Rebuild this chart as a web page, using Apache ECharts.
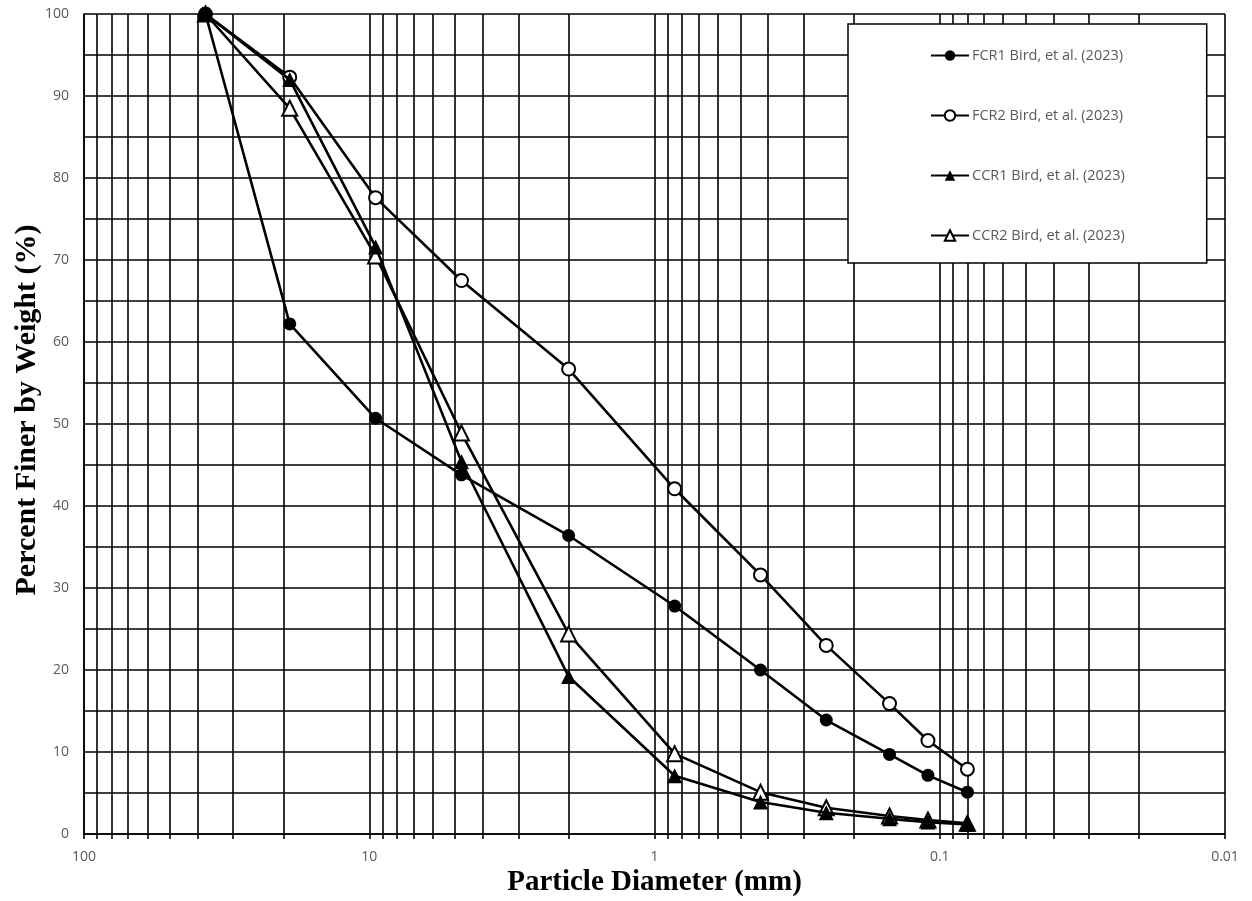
<!DOCTYPE html>
<html>
<head>
<meta charset="utf-8">
<title>Particle size distribution</title>
<script src="https://cdn.jsdelivr.net/npm/echarts@6/dist/echarts.min.js"></script>
<style>
  html, body { margin: 0; padding: 0; background: #fff; }
  #chart { width: 1252px; height: 901px; }
</style>
</head>
<body>
<div id="chart"></div>
<script>
// Sieve sizes (mm) and percent passing for each sample
const diameters = [37.5, 19, 9.5, 4.75, 2.0, 0.85, 0.425, 0.25, 0.15, 0.11, 0.08];
const fcr1 = [100, 62.2, 50.7, 43.8, 36.4, 27.8, 20.0, 13.9, 9.7, 7.15, 5.1];
const fcr2 = [100, 92.3, 77.6, 67.5, 56.7, 42.1, 31.6, 23.0, 15.9, 11.4, 7.9];
const ccr1 = [100, 92.0, 71.6, 45.4, 19.2, 7.1, 3.9, 2.6, 1.85, 1.45, 1.15];
const ccr2 = [100, 88.5, 70.5, 48.9, 24.4, 9.8, 5.1, 3.2, 2.2, 1.7, 1.3];

const seriesNames = [
  'FCR1 Bird, et al. (2023)',
  'FCR2 Bird, et al. (2023)',
  'CCR1 Bird, et al. (2023)',
  'CCR2 Bird, et al. (2023)'
];

// Log-axis tick values: every integer multiple within each decade
const xGridValues = [
  100, 90, 80, 70, 60, 50, 40, 30, 20,
  10, 9, 8, 7, 6, 5, 4, 3, 2,
  1, 0.9, 0.8, 0.7, 0.6, 0.5, 0.4, 0.3, 0.2,
  0.1, 0.09, 0.08, 0.07, 0.06, 0.05, 0.04, 0.03, 0.02,
  0.01
];
const xLabelValues = [100, 10, 1, 0.1, 0.01];

const pairs = (vals) => diameters.map((d, i) => [d, vals[i]]);

const LINE_W = 2.6;
const GRID_W = 1.6;
const black = '#000000';
const labelColor = '#595959';

function makeSeries(name, vals, symbol, filled, z) {
  return {
    name: name,
    type: 'line',
    data: pairs(vals),
    symbol: symbol,
    symbolSize: symbol === 'circle' ? 13 : 15,
    showSymbol: true,
    z: z,
    lineStyle: { color: black, width: LINE_W },
    itemStyle: filled
      ? { color: black, borderColor: black, borderWidth: 0 }
      : { color: '#ffffff', borderColor: black, borderWidth: 2 },
    emphasis: { disabled: true },
    animation: false
  };
}

const chart = echarts.init(document.getElementById('chart'), null, { renderer: 'canvas' });

chart.setOption({
  backgroundColor: '#ffffff',
  animation: false,
  grid: { left: 84, right: 27, top: 14, bottom: 67, containLabel: false, outerBoundsMode: 'none' },
  legend: {
    orient: 'vertical',
    left: 848,
    top: 24,
    data: seriesNames,
    itemWidth: 38,
    itemHeight: 13,
    itemGap: 45,
    padding: [24, 82, 20, 82],
    backgroundColor: '#ffffff',
    borderColor: black,
    borderWidth: 1.5,
    selectedMode: false,
    textStyle: { color: labelColor, fontFamily: 'Open Sans', fontSize: 14.5, padding: [0, 0, 0, -2] }
  },
  xAxis: {
    type: 'log',
    logBase: 10,
    inverse: true,
    min: 0.01,
    max: 100,
    name: 'Particle Diameter (mm)',
    nameLocation: 'middle',
    nameGap: 34,
    nameMoveOverlap: false,
    nameTextStyle: { fontFamily: 'Liberation Serif', fontWeight: 'bold', fontSize: 29, color: black },
    axisLine: { show: true, lineStyle: { color: black, width: GRID_W } },
    axisTick: { show: true, length: 5, inside: false, customValues: xGridValues, lineStyle: { color: black, width: GRID_W } },
    axisLabel: {
      show: true,
      customValues: xLabelValues,
      margin: 16,
      color: labelColor,
      fontFamily: 'Open Sans',
      fontSize: 14,
      formatter: (v) => String(v)
    },
    splitLine: { show: true, lineStyle: { color: black, width: GRID_W } },
    minorTick: { show: false },
    minorSplitLine: { show: false }
  },
  yAxis: {
    type: 'value',
    min: 0,
    max: 100,
    interval: 10,
    name: 'Percent Finer by Weight (%)',
    nameLocation: 'middle',
    nameGap: 42,
    nameMoveOverlap: false,
    nameTextStyle: {
      fontFamily: 'Liberation Serif',
      fontWeight: 'bold',
      fontSize: 30,
      color: black,
      padding: [0, 0, 0, 28]
    },
    axisLine: { show: true, lineStyle: { color: black, width: GRID_W } },
    axisTick: { show: false },
    axisLabel: { margin: 15, color: labelColor, fontFamily: 'Open Sans', fontSize: 14 },
    splitLine: { show: true, lineStyle: { color: black, width: GRID_W } },
    minorTick: { show: false, splitNumber: 2 },
    minorSplitLine: { show: true, lineStyle: { color: black, width: GRID_W } }
  },
  series: [
    makeSeries(seriesNames[3], ccr2, 'triangle', false, 2),
    makeSeries(seriesNames[1], fcr2, 'circle', false, 3),
    makeSeries(seriesNames[2], ccr1, 'triangle', true, 4),
    makeSeries(seriesNames[0], fcr1, 'circle', true, 5)
  ]
});
</script>
</body>
</html>
